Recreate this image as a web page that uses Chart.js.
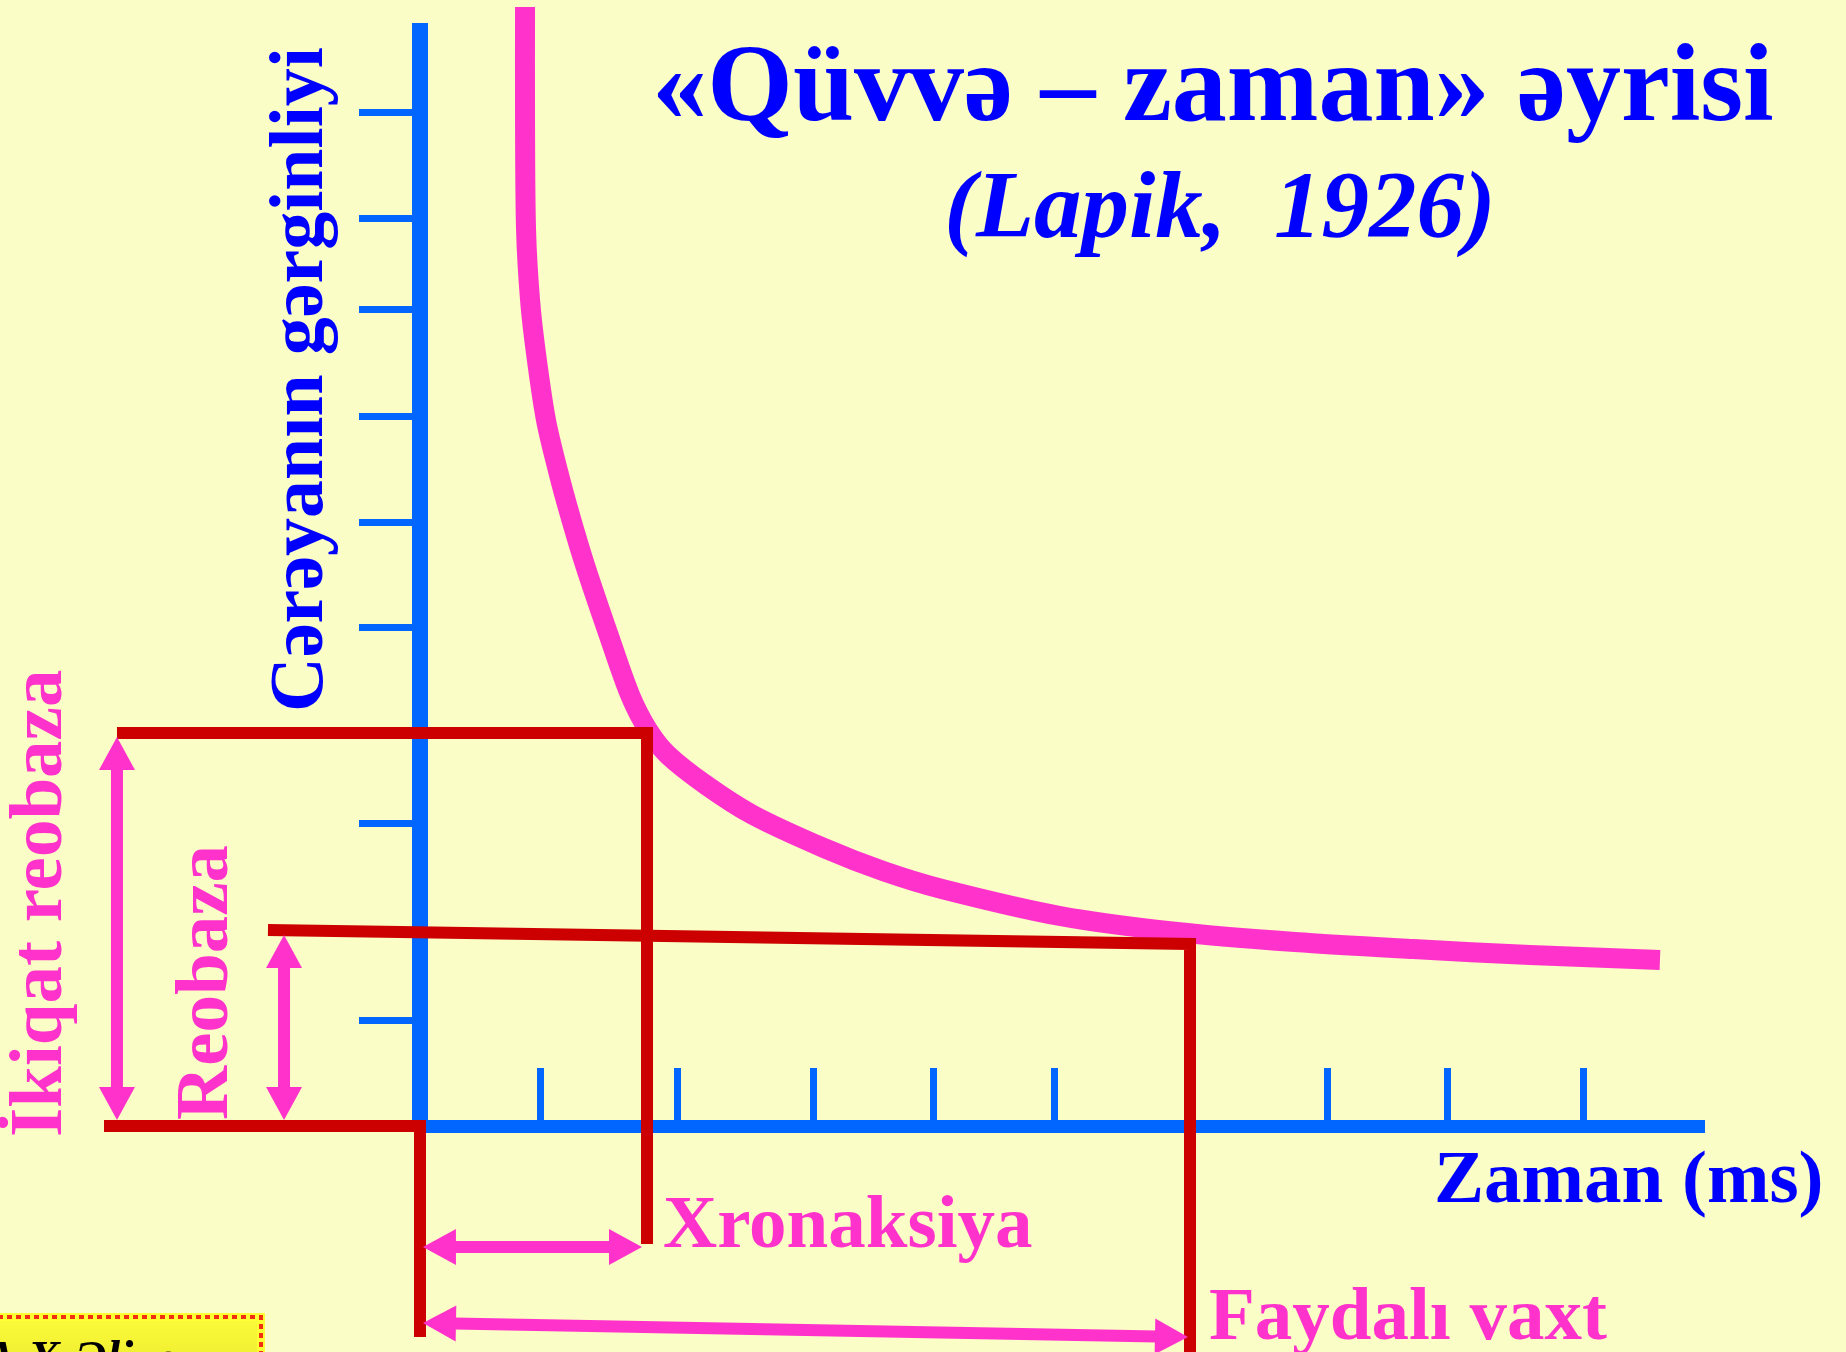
<!DOCTYPE html>
<html>
<head>
<meta charset="utf-8">
<script src="https://cdn.jsdelivr.net/npm/chart.js@4.4.1/dist/chart.umd.min.js"></script>
<style>
  html, body { margin: 0; padding: 0; background: #FAFDC5; }
  #wrap { position: relative; width: 1846px; height: 1352px; overflow: hidden; background: #FAFDC5; }
  canvas { display: block; }
</style>
</head>
<body>
<div id="wrap"><canvas id="c" width="1846" height="1352"></canvas></div>
<script>
// ---------------- data (x: time units, y: stimulus strength units) ----------------
const curveX = [0.818, 0.818, 0.826, 0.857, 0.903, 0.981, 1.075, 1.168, 1.285, 1.472, 1.636, 1.776, 1.931, 2.227, 2.593, 3.146, 3.606, 4.065, 4.984, 5.896, 6.815, 7.734, 8.645, 9.657];
const curveY = [11.19, 10.06, 8.96, 8.26, 7.73, 7.06, 6.55, 6.11, 5.61, 4.90, 4.31, 3.96, 3.71, 3.41, 3.11, 2.78, 2.55, 2.37, 2.10, 1.94, 1.84, 1.77, 1.71, 1.66];

const xTickValues = [0.942, 2.002, 3.061, 4.003, 4.945, 7.064, 8.006, 9.065];
const yTickValues = [10.13, 9.07, 8.16, 7.10, 6.04, 4.98, 3.03, 1.06];

// red guide lines
const doubleRheobaseX = [-2.360, 1.768, 1.768];
const doubleRheobaseY = [3.93, 3.93, -1.18];
const rheobaseX = [-1.184, 5.997, 5.997];
const rheobaseY = [1.96, 1.82, -2.40];
const baselineX = [-2.461, 0, 0];
const baselineY = [0, 0, -2.11];

// double-headed pink arrows: start / end
const arrowStartX = [-2.360, -1.059, 0.023, 0.023];
const arrowStartY = [3.89, 1.91, -1.21, -1.97];
const arrowEndX = [-2.360, -1.059, 1.729, 5.981];
const arrowEndY = [0.06, 0.06, -1.21, -2.11];

// texts
const titleText = '«Qüvvə – zaman» əyrisi';
const subtitleText = '(Lapik,  1926)';
const yAxisTitle = 'Cərəyanın gərginliyi';
const xAxisTitle = 'Zaman (ms)';
const labelDouble = 'İkiqat reobaza';
const labelRheo = 'Reobaza';
const labelChron = 'Xronaksiya';
const labelUseful = 'Faydalı vaxt';
const authorText = 'A.X.Əliyev';

// ---------------- styles ----------------
const BLUE_AXIS = '#0066FF';
const TEXT_BLUE = '#0000FF';
const PINK = '#FF33CC';
const RED = '#CC0000';
const SERIF = '"Liberation Serif", "Times New Roman", serif';

const pts = (xs, ys) => xs.map((x, i) => ({ x: x, y: ys[i] }));

const arrowPlugin = {
  id: 'arrows',
  afterDatasetsDraw(chart) {
    const { ctx } = chart;
    const sx = chart.scales.x, sy = chart.scales.y;
    const L = 33, W = 36, SHAFT = 12;
    ctx.save();
    ctx.fillStyle = PINK;
    ctx.strokeStyle = PINK;
    const head = (tx, ty, ux, uy) => {
      const bx = tx - ux * L, by = ty - uy * L;
      const px = -uy, py = ux;
      ctx.beginPath();
      ctx.moveTo(tx, ty);
      ctx.lineTo(bx + px * W / 2, by + py * W / 2);
      ctx.lineTo(bx - px * W / 2, by - py * W / 2);
      ctx.closePath();
      ctx.fill();
    };
    for (let i = 0; i < arrowStartX.length; i++) {
      const x1 = sx.getPixelForValue(arrowStartX[i]), y1 = sy.getPixelForValue(arrowStartY[i]);
      const x2 = sx.getPixelForValue(arrowEndX[i]), y2 = sy.getPixelForValue(arrowEndY[i]);
      const a = Math.atan2(y2 - y1, x2 - x1);
      const ux = Math.cos(a), uy = Math.sin(a);
      ctx.lineWidth = SHAFT;
      ctx.lineCap = 'butt';
      ctx.beginPath();
      ctx.moveTo(x1 + ux * (L - 2), y1 + uy * (L - 2));
      ctx.lineTo(x2 - ux * (L - 2), y2 - uy * (L - 2));
      ctx.stroke();
      head(x1, y1, -ux, -uy);
      head(x2, y2, ux, uy);
    }
    ctx.restore();
  }
};

const textItems = [
  { t: titleText, x: 1213, y: 120, font: 'bold 110px ' + SERIF, color: TEXT_BLUE, align: 'center', rot: 0 },
  { t: subtitleText, x: 1220, y: 237, font: 'italic bold 95px ' + SERIF, color: TEXT_BLUE, align: 'center', rot: 0 },
  { t: yAxisTitle, x: 322, y: 712, font: 'bold 76px ' + SERIF, color: TEXT_BLUE, align: 'left', rot: -90 },
  { t: xAxisTitle, x: 1434, y: 1202, font: 'bold 75px ' + SERIF, color: TEXT_BLUE, align: 'left', rot: 0 },
  { t: labelDouble, x: 61, y: 1137, font: 'bold 75px ' + SERIF, color: PINK, align: 'left', rot: -90 },
  { t: labelRheo, x: 227, y: 1120, font: 'bold 75px ' + SERIF, color: PINK, align: 'left', rot: -90 },
  { t: labelChron, x: 663, y: 1247, font: 'bold 75px ' + SERIF, color: PINK, align: 'left', rot: 0 },
  { t: labelUseful, x: 1209, y: 1339, font: 'bold 75px ' + SERIF, color: PINK, align: 'left', rot: 0 }
];

const textPlugin = {
  id: 'texts',
  afterDraw(chart) {
    const { ctx } = chart;
    // author credit box (bottom-left)
    ctx.save();
    const g = ctx.createLinearGradient(0, 1313, 0, 1352);
    g.addColorStop(0, '#FDFD3C');
    g.addColorStop(1, '#F2F032');
    ctx.fillStyle = g;
    ctx.fillRect(-20, 1313, 285, 60);
    ctx.lineWidth = 8;
    ctx.strokeStyle = '#FFFF33';
    ctx.strokeRect(-20, 1317, 281, 60);
    ctx.setLineDash([5, 4]);
    ctx.lineWidth = 4;
    ctx.strokeStyle = '#F03010';
    ctx.strokeRect(-20, 1317, 281, 60);
    ctx.setLineDash([]);
    ctx.fillStyle = '#000000';
    ctx.font = 'italic bold 48px ' + SERIF;
    ctx.textAlign = 'left';
    ctx.textBaseline = 'alphabetic';
    ctx.fillText(authorText, -16, 1374);
    ctx.restore();

    for (const it of textItems) {
      ctx.save();
      ctx.translate(it.x, it.y);
      if (it.rot) ctx.rotate(it.rot * Math.PI / 180);
      ctx.font = it.font;
      ctx.fillStyle = it.color;
      ctx.textAlign = it.align;
      ctx.textBaseline = 'alphabetic';
      ctx.fillText(it.t, 0, 0);
      ctx.restore();
    }
  }
};

const lineDs = (label, data, color, width, order, extra) => Object.assign({
  label: label, data: data, showLine: true, borderColor: color, backgroundColor: color,
  borderWidth: width, pointRadius: 0, pointHoverRadius: 0, clip: false, order: order,
  borderJoinStyle: 'miter', borderCapStyle: 'butt', tension: 0
}, extra || {});

new Chart(document.getElementById('c').getContext('2d'), {
  type: 'scatter',
  data: {
    datasets: [
      lineDs('İkiqat reobaza', pts(doubleRheobaseX, doubleRheobaseY), RED, 12, 1),
      lineDs('Reobaza', pts(rheobaseX, rheobaseY), RED, 12, 1),
      lineDs('Baza', pts(baselineX, baselineY), RED, 12, 1),
      lineDs('Qüvvə – zaman əyrisi', pts(curveX, curveY), PINK, 20, 2, { tension: 0.3 })
    ]
  },
  options: {
    responsive: false,
    animation: false,
    devicePixelRatio: 1,
    events: [],
    layout: { padding: { left: 420, right: 142, top: 31, bottom: 226 } },
    plugins: { legend: { display: false }, tooltip: { enabled: false }, title: { display: false } },
    scales: {
      x: {
        type: 'linear', min: 0, max: 10, position: { y: 0 },
        border: { display: true, color: BLUE_AXIS, width: 13 },
        grid: { display: true, drawOnChartArea: false, drawTicks: true, tickLength: -65, tickWidth: 7, tickColor: BLUE_AXIS, color: BLUE_AXIS, lineWidth: 1 },
        ticks: { display: false },
        afterBuildTicks: (s) => { s.ticks = xTickValues.map(v => ({ value: v })); }
      },
      y: {
        type: 'linear', min: 0, max: 10.95, position: { x: 0 },
        border: { display: true, color: BLUE_AXIS, width: 16 },
        grid: { display: true, drawOnChartArea: false, drawTicks: true, tickLength: 53, tickWidth: 7, tickColor: BLUE_AXIS, color: BLUE_AXIS, lineWidth: 1 },
        ticks: { display: false },
        afterBuildTicks: (s) => { s.ticks = yTickValues.map(v => ({ value: v })); }
      }
    }
  },
  plugins: [arrowPlugin, textPlugin]
});
</script>
</body>
</html>
